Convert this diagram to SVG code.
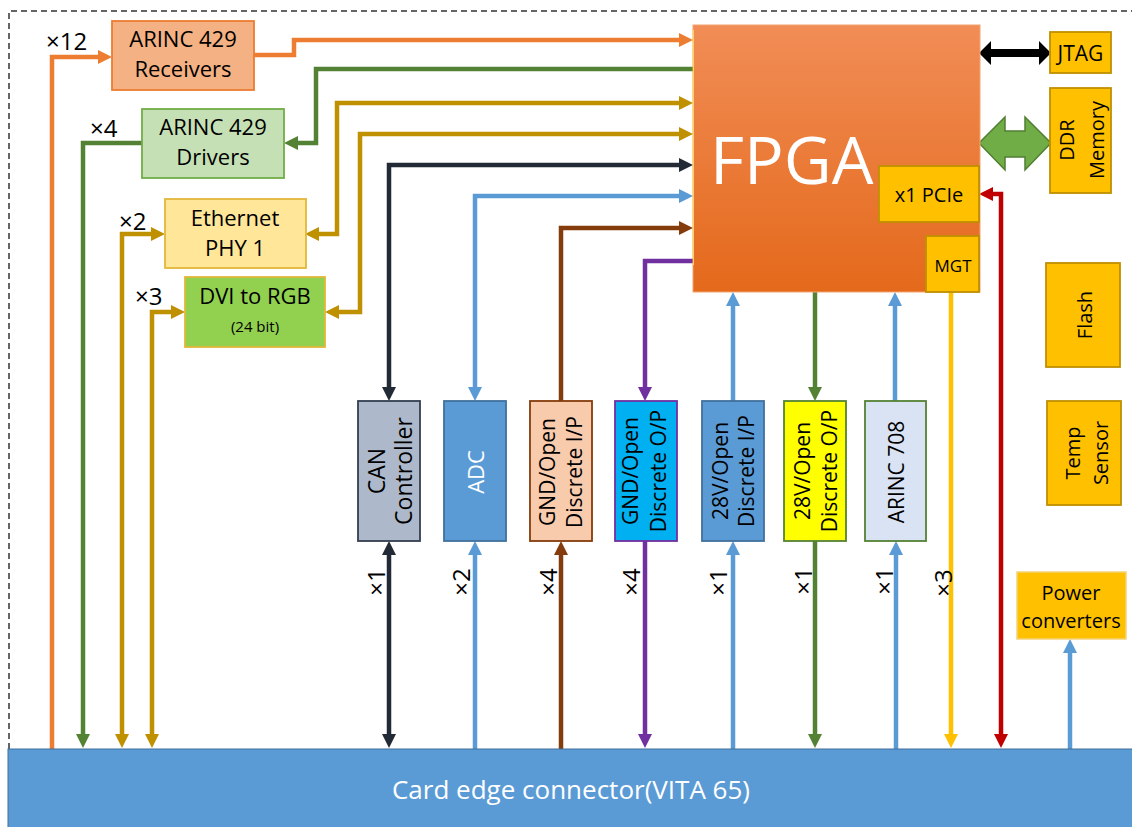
<svg xmlns="http://www.w3.org/2000/svg" width="1132" height="827" viewBox="0 0 1132 827">
<style>
text{font-family:"Open Sans","Liberation Sans",sans-serif;fill:#000}
.c{text-anchor:middle}
.m{font-size:22px}
.v{font-size:21px;text-anchor:middle;dominant-baseline:central}
.lbl{font-size:24px}
.vl{font-size:24px;text-anchor:middle;dominant-baseline:central}
.ln{fill:none;stroke-width:4.5;stroke-linejoin:miter}
.box{stroke-width:1.8}
.y{fill:#FFC000;stroke:#BF9000;stroke-width:1.8}
</style>
<defs>
<linearGradient id="gFpga" x1="0" y1="0" x2="0" y2="1">
<stop offset="0" stop-color="#F18D56"/>
<stop offset="1" stop-color="#E4691B"/>
</linearGradient>
<marker id="aO" viewBox="0 0 14 14" refX="3" refY="7" markerWidth="14" markerHeight="14" markerUnits="userSpaceOnUse" orient="auto-start-reverse"><path d="M0,0 L14,7 L0,14 z" fill="#ED7D31"/></marker>
<marker id="aG" viewBox="0 0 14 14" refX="3" refY="7" markerWidth="14" markerHeight="14" markerUnits="userSpaceOnUse" orient="auto-start-reverse"><path d="M0,0 L14,7 L0,14 z" fill="#548235"/></marker>
<marker id="aY" viewBox="0 0 14 14" refX="3" refY="7" markerWidth="14" markerHeight="14" markerUnits="userSpaceOnUse" orient="auto-start-reverse"><path d="M0,0 L14,7 L0,14 z" fill="#BF9000"/></marker>
<marker id="aK" viewBox="0 0 14 14" refX="3" refY="7" markerWidth="14" markerHeight="14" markerUnits="userSpaceOnUse" orient="auto-start-reverse"><path d="M0,0 L14,7 L0,14 z" fill="#222A35"/></marker>
<marker id="aB" viewBox="0 0 14 14" refX="3" refY="7" markerWidth="14" markerHeight="14" markerUnits="userSpaceOnUse" orient="auto-start-reverse"><path d="M0,0 L14,7 L0,14 z" fill="#5B9BD5"/></marker>
<marker id="aN" viewBox="0 0 14 14" refX="3" refY="7" markerWidth="14" markerHeight="14" markerUnits="userSpaceOnUse" orient="auto-start-reverse"><path d="M0,0 L14,7 L0,14 z" fill="#843C0C"/></marker>
<marker id="aP" viewBox="0 0 14 14" refX="3" refY="7" markerWidth="14" markerHeight="14" markerUnits="userSpaceOnUse" orient="auto-start-reverse"><path d="M0,0 L14,7 L0,14 z" fill="#7030A0"/></marker>
<marker id="aL" viewBox="0 0 14 14" refX="3" refY="7" markerWidth="14" markerHeight="14" markerUnits="userSpaceOnUse" orient="auto-start-reverse"><path d="M0,0 L14,7 L0,14 z" fill="#FFC000"/></marker>
<marker id="aR" viewBox="0 0 14 14" refX="3" refY="7" markerWidth="14" markerHeight="14" markerUnits="userSpaceOnUse" orient="auto-start-reverse"><path d="M0,0 L14,7 L0,14 z" fill="#C00000"/></marker>
</defs>

<rect width="1132" height="827" fill="#FFFFFF"/>

<g id="border" stroke="#333333" stroke-width="1.5" stroke-dasharray="6,4" fill="none">
<path d="M9,749 V11 H1132"/>
</g>

<g id="connectors">
<path class="ln" stroke="#ED7D31" d="M52,749 V57 H101" marker-end="url(#aO)"/>
<path class="ln" stroke="#ED7D31" d="M254,55 H294 V40 H682" marker-end="url(#aO)"/>
<path class="ln" stroke="#548235" d="M693,69 H316 V143 H295" marker-end="url(#aG)"/>
<path class="ln" stroke="#548235" d="M142,143 H83 V737" marker-end="url(#aG)"/>
<path class="ln" stroke="#BF9000" d="M122,737 V234 H154" marker-start="url(#aY)" marker-end="url(#aY)"/>
<path class="ln" stroke="#BF9000" d="M316,234 H337 V103 H682" marker-start="url(#aY)" marker-end="url(#aY)"/>
<path class="ln" stroke="#BF9000" d="M152,737 V312 H174" marker-start="url(#aY)" marker-end="url(#aY)"/>
<path class="ln" stroke="#BF9000" d="M336,312 H360 V134 H682" marker-start="url(#aY)" marker-end="url(#aY)"/>
<path class="ln" stroke="#222A35" d="M682,165 H389 V390" marker-start="url(#aK)" marker-end="url(#aK)"/>
<path class="ln" stroke="#222A35" d="M389,552 V737" marker-start="url(#aK)" marker-end="url(#aK)"/>
<path class="ln" stroke="#5B9BD5" d="M682,196 H475 V390" marker-start="url(#aB)" marker-end="url(#aB)"/>
<path class="ln" stroke="#5B9BD5" d="M475,749 V552" marker-end="url(#aB)"/>
<path class="ln" stroke="#843C0C" d="M561,401 V228 H682" marker-end="url(#aN)"/>
<path class="ln" stroke="#843C0C" d="M561,749 V552" marker-end="url(#aN)"/>
<path class="ln" stroke="#7030A0" d="M693,261 H645 V390" marker-end="url(#aP)"/>
<path class="ln" stroke="#7030A0" d="M645,541 V737" marker-end="url(#aP)"/>
<path class="ln" stroke="#5B9BD5" d="M733,401 V303" marker-end="url(#aB)"/>
<path class="ln" stroke="#5B9BD5" d="M733,749 V552" marker-end="url(#aB)"/>
<path class="ln" stroke="#548235" d="M815,292 V390" marker-end="url(#aG)"/>
<path class="ln" stroke="#548235" d="M815,541 V737" marker-end="url(#aG)"/>
<path class="ln" stroke="#5B9BD5" d="M895,401 V303" marker-end="url(#aB)"/>
<path class="ln" stroke="#5B9BD5" d="M896,749 V552" marker-end="url(#aB)"/>
<path class="ln" stroke="#FFC000" stroke-width="4" d="M951,292 V737" marker-end="url(#aL)"/>
<path class="ln" stroke="#C00000" d="M1001,737 V194 H990" marker-start="url(#aR)" marker-end="url(#aR)"/>
<path class="ln" stroke="#5B9BD5" d="M1070,749 V650" marker-end="url(#aB)"/>
<polygon points="979,53 991,41 991,49 1039,49 1039,41 1051,53 1039,65 1039,57 991,57 991,65" fill="#000000"/>
<polygon points="979,143 1005,117 1005,131 1025,131 1025,117 1051,143 1025,170 1025,157 1005,157 1005,170" fill="#70AD47" stroke="#507E32" stroke-width="1.5"/>
</g>

<g id="fpga">
<rect x="693" y="25" width="287" height="267" fill="url(#gFpga)" stroke="#F4A46E" stroke-width="1"/>
<line x1="693.5" y1="30" x2="693.5" y2="265" stroke="#FFD54A" stroke-width="1"/>
<text x="710" y="184" font-size="66" style="fill:#FFFFFF">FPGA</text>
</g>
<g id="pcie">
<rect class="y" x="879" y="166" width="100" height="56"/>
<text class="c" x="929" y="202" font-size="20">x1 PCIe</text>
</g>
<g id="mgt">
<rect class="y" x="926" y="236" width="53" height="56"/>
<text class="c" x="953" y="272" font-size="17">MGT</text>
</g>
<g id="jtag">
<rect class="y" x="1050" y="32" width="61" height="41"/>
<text class="c" x="1080.5" y="61" font-size="21">JTAG</text>
</g>
<g id="ddr">
<rect class="y" x="1050" y="88" width="61" height="105"/>
<text transform="translate(1081,140) rotate(-90)" class="v" style="font-size:20px"><tspan x="0" y="-15">DDR</tspan><tspan x="0" y="15">Memory</tspan></text>
</g>
<g id="flash">
<rect class="y" x="1046" y="263" width="74" height="104"/>
<text transform="translate(1084,315) rotate(-90)" class="v" style="font-size:20px">Flash</text>
</g>
<g id="temp">
<rect class="y" x="1047" y="401" width="74" height="104"/>
<text transform="translate(1086,453) rotate(-90)" class="v" style="font-size:20px"><tspan x="0" y="-14">Temp</tspan><tspan x="0" y="14">Sensor</tspan></text>
</g>
<g id="power">
<rect x="1017" y="572" width="109" height="67" fill="#FFC000" stroke="#F4D27A" stroke-width="1.5"/>
<text class="c" x="1071" y="600" font-size="20">Power</text>
<text class="c" x="1071" y="628" font-size="20">converters</text>
</g>

<g id="arinc429rx">
<rect class="box" x="112" y="21" width="142" height="69" fill="#F4B183" stroke="#ED7D31"/>
<text class="c m" x="183" y="47">ARINC 429</text>
<text class="c m" x="183" y="77">Receivers</text>
</g>
<g id="arinc429tx">
<rect class="box" x="142" y="109" width="142" height="69" fill="#C5E0B4" stroke="#70AD47"/>
<text class="c m" x="213" y="135">ARINC 429</text>
<text class="c m" x="213" y="165">Drivers</text>
</g>
<g id="ethernet">
<rect class="box" x="165" y="199" width="141" height="69" fill="#FFE699" stroke="#E2B73A"/>
<text class="c m" x="235" y="226">Ethernet</text>
<text class="c m" x="235" y="256">PHY 1</text>
</g>
<g id="dvi">
<rect class="box" x="185" y="277" width="140" height="70" fill="#92D050" stroke="#E2B73A"/>
<text class="c m" x="255" y="304">DVI to RGB</text>
<text class="c" x="255" y="332" font-size="15">(24 bit)</text>
</g>

<g id="labels-left">
<text class="lbl" x="46" y="50">×12</text>
<text class="lbl" x="90" y="137">×4</text>
<text class="lbl" x="119" y="230">×2</text>
<text class="lbl" x="135" y="305">×3</text>
</g>

<g id="can">
<rect class="box" x="358" y="401" width="62" height="140" fill="#ADB9CA" stroke="#333F50"/>
<text transform="translate(389,471) rotate(-90)" class="v" style="font-size:23px"><tspan x="0" y="-13.5">CAN</tspan><tspan x="0" y="13.5">Controller</tspan></text>
</g>
<g id="adc">
<rect class="box" x="444" y="401" width="62" height="140" fill="#5B9BD5" stroke="#41719C"/>
<text transform="translate(475,472) rotate(-90)" class="v" style="font-size:22px;fill:#FFFFFF">ADC</text>
</g>
<g id="gnd-ip">
<rect class="box" x="530" y="401" width="62" height="140" fill="#F8CBAD" stroke="#843C0C"/>
<text transform="translate(560,472) rotate(-90)" class="v"><tspan x="0" y="-13.5">GND/Open</tspan><tspan x="0" y="13.5">Discrete I/P</tspan></text>
</g>
<g id="gnd-op">
<rect class="box" x="615" y="401" width="62" height="140" fill="#00B0F0" stroke="#7030A0"/>
<text transform="translate(644,471) rotate(-90)" class="v"><tspan x="0" y="-14">GND/Open</tspan><tspan x="0" y="14">Discrete O/P</tspan></text>
</g>
<g id="v28-ip">
<rect class="box" x="702" y="401" width="62" height="140" fill="#5B9BD5" stroke="#41719C"/>
<text transform="translate(733,471) rotate(-90)" class="v"><tspan x="0" y="-13">28V/Open</tspan><tspan x="0" y="13">Discrete I/P</tspan></text>
</g>
<g id="v28-op">
<rect class="box" x="784" y="401" width="62" height="140" fill="#FFFF00" stroke="#548235"/>
<text transform="translate(815,471) rotate(-90)" class="v"><tspan x="0" y="-13.5">28V/Open</tspan><tspan x="0" y="13.5">Discrete O/P</tspan></text>
</g>
<g id="arinc708">
<rect class="box" x="865" y="401" width="61" height="140" fill="#DAE3F3" stroke="#548235"/>
<text transform="translate(896,472) rotate(-90)" class="v">ARINC 708</text>
</g>

<g id="labels-vertical">
<text transform="translate(375,582) rotate(-90)" class="vl">×1</text>
<text transform="translate(460,582) rotate(-90)" class="vl">×2</text>
<text transform="translate(547,582) rotate(-90)" class="vl">×4</text>
<text transform="translate(630,582) rotate(-90)" class="vl">×4</text>
<text transform="translate(717,582) rotate(-90)" class="vl">×1</text>
<text transform="translate(802,581) rotate(-90)" class="vl">×1</text>
<text transform="translate(883,581) rotate(-90)" class="vl">×1</text>
<text transform="translate(942,583) rotate(-90)" class="vl">×3</text>
</g>

<g id="card-edge">
<rect x="8" y="749" width="1130" height="85" fill="#5B9BD5" stroke="#41719C" stroke-width="1"/>
<text class="c" x="571" y="799" font-size="26" style="fill:#FFFFFF">Card edge connector(VITA 65)</text>
</g>
</svg>
